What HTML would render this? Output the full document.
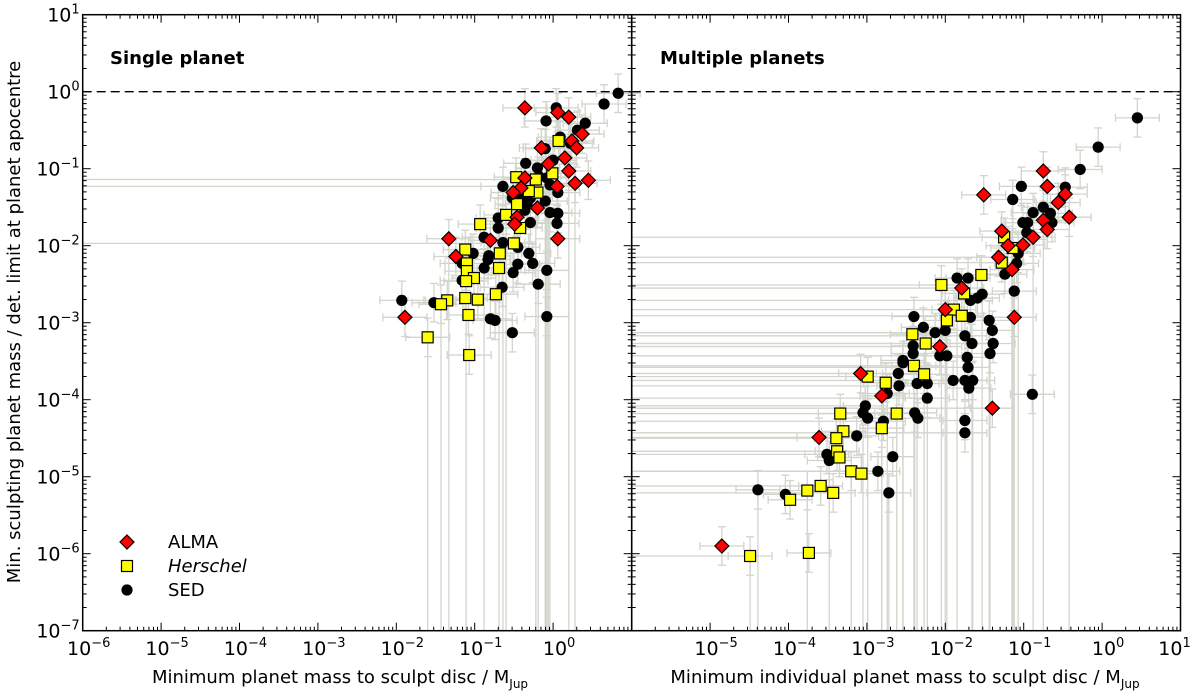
<!DOCTYPE html>
<html><head><meta charset="utf-8"><style>
html,body{margin:0;padding:0;background:#fff;}
svg{display:block;font-family:"DejaVu Sans","Liberation Sans",sans-serif;}
</style></head><body>
<svg id="chart" width="1200" height="693" viewBox="0 0 1200 693" xmlns="http://www.w3.org/2000/svg">
<g id="bars"></g>
<g id="marks"></g>
<g id="axes"></g>
<text x="110" y="64" font-size="18" font-weight="bold">Single planet</text>
<text x="660" y="64" font-size="18" font-weight="bold">Multiple planets</text>
<text x="340" y="683" font-size="18" text-anchor="middle">Minimum planet mass to sculpt disc / M<tspan font-size="12" dy="5">Jup</tspan></text>
<text x="905" y="683" font-size="18" text-anchor="middle">Minimum individual planet mass to sculpt disc / M<tspan font-size="12" dy="5">Jup</tspan></text>
<text x="20" y="322" font-size="18" text-anchor="middle" transform="rotate(-90 20 322)">Min. sculpting planet mass / det. limit at planet apocentre</text>
<g>
<polygon points="127,535 134,542 127,549 120,542" fill="#ff0000" stroke="#000" stroke-width="1.2"/>
<text x="168" y="548" font-size="18">ALMA</text>
<rect x="121.5" y="560.5" width="11" height="11" fill="#ffff00" stroke="#000" stroke-width="1.2"/>
<text x="168" y="572" font-size="18" font-style="italic">Herschel</text>
<circle cx="127" cy="590" r="5.6" fill="#000"/>
<text x="168" y="596" font-size="18">SED</text>
</g>
</svg>
<script>
// log10 values: [log10(mass), log10(ratio)]
const leftAlma = [[-0.36,-0.21],[0.06,-0.27],[0.20,-0.33],[0.37,-0.55],[0.24,-0.64],[0.30,-0.73],[-0.15,-0.73],[0.15,-0.86],[-0.06,-0.94],[0.20,-1.03],[-0.36,-1.12],[-0.41,-1.25],[-0.51,-1.31],[0.05,-1.23],[0.28,-1.19],[0.45,-1.15],[-0.20,-1.51],[-0.46,-1.63],[-0.49,-1.72],[-0.80,-1.93],[-1.33,-1.91],[0.06,-1.91],[-1.24,-2.14],[-1.89,-2.93]];
const leftHerschel = [[0.07,-0.64],[-0.22,-1.14],[-0.47,-1.11],[-0.20,-1.31],[-0.31,-1.29],[-0.46,-1.46],[-0.60,-1.60],[-0.42,-1.77],[-0.93,-1.72],[-0.50,-1.97],[-0.68,-2.10],[-0.69,-2.29],[-1.12,-2.05],[-1.10,-2.23],[-1.10,-2.33],[-1.01,-2.42],[-1.11,-2.46],[-0.73,-2.63],[-0.96,-2.70],[-1.12,-2.68],[-1.35,-2.71],[-1.43,-2.76],[-1.08,-2.90],[-1.60,-3.19],[-1.07,-3.42],[-0.01,-1.06]];
const leftSed = [[0.83,-0.02],[0.65,-0.16],[0.04,-0.21],[-0.09,-0.38],[0.41,-0.41],[0.31,-0.50],[0.09,-0.59],[0.22,-0.67],[-0.35,-0.93],[-0.20,-0.99],[-0.08,-1.12],[-0.04,-1.21],[0.06,-1.31],[-0.64,-1.23],[-0.29,-1.38],[-0.33,-1.45],[-0.52,-1.38],[-0.04,-1.57],[0.06,-1.58],[0.05,-1.71],[-0.29,-1.70],[-0.70,-1.64],[-0.70,-1.77],[-0.88,-1.89],[-0.64,-1.96],[-0.45,-2.02],[-0.31,-2.10],[-1.02,-2.10],[-0.82,-2.13],[-0.83,-2.18],[-1.16,-2.23],[-0.88,-2.29],[-0.45,-2.24],[-0.26,-2.23],[-0.08,-2.32],[-0.51,-2.35],[-1.16,-2.45],[-0.65,-2.54],[-0.19,-2.50],[-1.93,-2.71],[-1.52,-2.74],[-0.80,-2.95],[-0.74,-2.97],[-0.52,-3.13],[-0.08,-2.92],[-0.10,-0.74],[0.0,-0.89],[-0.18,-1.10],[-0.42,-1.35],[-0.36,-1.54],[-0.10,-1.42]];
const rightAlma = [[-3.08,-3.66],[-2.81,-3.95],[-3.61,-4.49],[-4.85,-5.90],[-1.51,-1.34],[-0.75,-1.03],[-0.70,-1.23],[-0.47,-1.33],[-0.56,-1.44],[-0.42,-1.63],[-0.75,-1.67],[-0.70,-1.79],[-1.28,-1.81],[-0.88,-1.89],[-1.01,-1.99],[-1.20,-2.00],[-1.32,-2.15],[-1.15,-2.31],[-1.79,-2.55],[-2.00,-2.83],[-2.07,-3.31],[-1.12,-2.93],[-1.40,-4.11]];
const rightHerschel = [[-2.99,-3.70],[-2.76,-3.78],[-2.40,-3.56],[-2.27,-3.67],[-2.25,-3.27],[-3.34,-4.18],[-2.62,-4.18],[-3.30,-4.41],[-3.39,-4.50],[-2.81,-4.37],[-3.38,-4.67],[-3.35,-4.75],[-3.20,-4.93],[-3.07,-4.96],[-3.59,-5.12],[-3.76,-5.18],[-3.43,-5.21],[-3.98,-5.30],[-4.49,-6.03],[-3.74,-5.99],[-1.25,-1.89],[-1.14,-2.03],[-1.28,-2.22],[-1.54,-2.38],[-2.05,-2.51],[-1.76,-2.62],[-1.89,-2.83],[-1.98,-2.97],[-1.79,-2.91],[-2.42,-3.15]];
const rightSed = [[0.45,-0.34],[-0.05,-0.72],[-0.28,-1.01],[-1.03,-1.23],[-1.14,-1.40],[-0.47,-1.24],[-0.88,-1.57],[-0.75,-1.50],[-0.66,-1.58],[-1.01,-1.70],[-0.95,-1.70],[-0.64,-1.70],[-0.96,-1.83],[-1.07,-2.10],[-1.09,-2.23],[-1.24,-2.37],[-1.85,-2.42],[-1.71,-2.42],[-1.68,-2.71],[-1.53,-2.63],[-1.59,-2.68],[-1.12,-2.59],[-1.44,-2.97],[-1.40,-3.10],[-1.39,-3.27],[-1.43,-3.40],[-1.68,-2.93],[-1.75,-3.17],[-1.66,-3.27],[-1.72,-3.45],[-1.71,-3.58],[-2.40,-2.92],[-2.28,-3.06],[-2.13,-3.13],[-2.00,-3.10],[-2.07,-3.43],[-1.98,-3.43],[-2.54,-3.52],[-2.41,-3.40],[-2.60,-3.66],[-2.36,-3.79],[-1.90,-3.75],[-1.75,-3.75],[-1.65,-3.75],[-1.70,-3.85],[-0.89,-3.93],[-2.23,-3.79],[-1.75,-4.27],[-1.75,-4.43],[-4.39,-5.17],[-4.04,-5.23],[-3.51,-4.71],[-3.48,-4.79],[-3.13,-4.47],[-2.86,-4.93],[-2.72,-5.21],[-2.67,-4.74],[-3.02,-4.08],[-3.05,-4.17],[-2.99,-4.24],[-2.79,-4.28],[-2.39,-4.17],[-2.35,-4.24],[-2.59,-3.82],[-2.54,-3.49],[-2.41,-3.30],[-2.23,-3.98],[-2.74,-3.92]];
const yTickExps = [-7,-6,-5,-4,-3,-2,-1,0,1];
const leftXTickExps = [-6,-5,-4,-3,-2,-1,0];
const rightXTickExps = [-5,-4,-3,-2,-1,0,1];

const NS="http://www.w3.org/2000/svg";
const TOP=14.7, BOT=630.7, L0=82.7, L1=631.7, R1=1180.5, DEC=78.4;
const panels=[{x0:L0,x1:L1},{x0:L1,x1:R1}];
function xs(p,lx){return panels[p].x0+(lx+6)*DEC;}
function ys(ly){return TOP+(1-ly)*(BOT-TOP)/8;}
function mk(tag,attrs,parent){const e=document.createElementNS(NS,tag);for(const k in attrs)e.setAttribute(k,attrs[k]);parent.appendChild(e);return e;}
const bars=document.getElementById('bars'), marks=document.getElementById('marks'), axes=document.getElementById('axes');
const GC="#d2d5cc";

function errbars(p,pts,longH,longV){
  pts.forEach((d,i)=>{
    const cx=xs(p,d[0]), cy=ys(d[1]);
    const hx0=xs(p,d[0]-0.28), hx1=xs(p,d[0]+0.28), vy0=ys(d[1]+0.25), vy1=ys(d[1]-0.25);
    const g=mk('g',{stroke:GC,'stroke-width':1.3,fill:'none'},bars);
    
    
    mk('line',{x1:hx0,y1:cy,x2:hx1,y2:cy},g);
    mk('line',{x1:cx,y1:vy0,x2:cx,y2:vy1},g);
    mk('line',{x1:hx0,y1:cy-4,x2:hx0,y2:cy+4},g);
    mk('line',{x1:hx1,y1:cy-4,x2:hx1,y2:cy+4},g);
    mk('line',{x1:cx-4,y1:vy0,x2:cx+4,y2:vy0},g);
    mk('line',{x1:cx-4,y1:vy1,x2:cx+4,y2:vy1},g);
    if(longH(d,i)) mk('line',{x1:panels[p].x0,y1:cy,x2:cx,y2:cy},g);
    if(longV(d,i)) mk('line',{x1:cx,y1:cy,x2:cx,y2:BOT},g);
  });
}
errbars(0,leftAlma,(d,i)=>false,(d,i)=>i%6==2);
errbars(0,leftHerschel,(d,i)=>i==1||i==9,(d,i)=>i%5==1||i==23);
errbars(0,leftSed,(d,i)=>i==13,(d,i)=>i%7==3);
errbars(1,rightAlma,(d,i)=>d[1]<-2&&i%2==0,(d,i)=>i%4==1);
errbars(1,rightHerschel,(d,i)=>i%2==0,(d,i)=>i%3==0);
errbars(1,rightSed,(d,i)=>d[0]<-1.3&&i%3==0,(d,i)=>d[0]<-1&&i%3==1);

function circles(p,pts){pts.forEach(d=>{const e=mk('circle',{cx:xs(p,d[0]),cy:ys(d[1]),r:5.6,fill:'#000'},marks);
  
  });}
function squares(p,pts){pts.forEach(d=>{const cx=xs(p,d[0]),cy=ys(d[1]);const e=mk('rect',{x:cx-5.5,y:cy-5.5,width:11,height:11,fill:'#ffff00',stroke:'#000','stroke-width':1.2},marks);
  
  });}
function diamonds(p,pts){pts.forEach(d=>{const cx=xs(p,d[0]),cy=ys(d[1]);const e=mk('polygon',{points:`${cx},${cy-7} ${cx+7},${cy} ${cx},${cy+7} ${cx-7},${cy}`,fill:'#ff0000',stroke:'#000','stroke-width':1.2},marks);
  
  });}
circles(0,leftSed);squares(0,leftHerschel);diamonds(0,leftAlma);
circles(1,rightSed);squares(1,rightHerschel);diamonds(1,rightAlma);

[0,1].forEach(p=>{const e=mk('line',{x1:panels[p].x0,y1:ys(0),x2:panels[p].x1,y2:ys(0),stroke:'#000','stroke-width':1.3,'stroke-dasharray':'9,5'},axes);
  
  });

[0,1].forEach(p=>{
  const x0=panels[p].x0,x1=panels[p].x1;
  const f=mk('rect',{x:x0,y:TOP,width:x1-x0,height:BOT-TOP,fill:'none',stroke:'#000','stroke-width':1.5},axes);
  
  
  for(let e=-6;e<1;e++){for(let k=1;k<10;k++){const x=x0+(e+6+Math.log10(k))*DEC;const len=k==1?8:4;
    mk('line',{x1:x,y1:BOT,x2:x,y2:BOT-len,stroke:'#000','stroke-width':1},axes);
    mk('line',{x1:x,y1:TOP,x2:x,y2:TOP+len,stroke:'#000','stroke-width':1},axes);}}
  for(let e=-7;e<1;e++){for(let k=1;k<10;k++){const y=ys(e+Math.log10(k));const len=k==1?8:4;
    mk('line',{x1:x0,y1:y,x2:x0+len,y2:y,stroke:'#000','stroke-width':1},axes);
    mk('line',{x1:x1,y1:y,x2:x1-len,y2:y,stroke:'#000','stroke-width':1},axes);}}
});
function powLabel(x,y,exp,anchor,name){
  const t=mk('text',{x:x,y:y,'font-size':19,'text-anchor':anchor,fill:'#000'},axes);
  
  
  const a=mk('tspan',{},t);a.textContent='10';
  const b=mk('tspan',{'font-size':13,dy:-8},t);b.textContent=String(exp).replace('-','\u2212');
}
yTickExps.forEach(e=>powLabel(L0-3,ys(e)+7,e,'end','y-tick-label'));
leftXTickExps.forEach(e=>powLabel(xs(0,e)+6,655,e,'middle','x-tick-label'));
rightXTickExps.forEach(e=>powLabel(xs(1,e)+(e==1?-6:6),655,e,'middle','x-tick-label'));
</script>
</body></html>
